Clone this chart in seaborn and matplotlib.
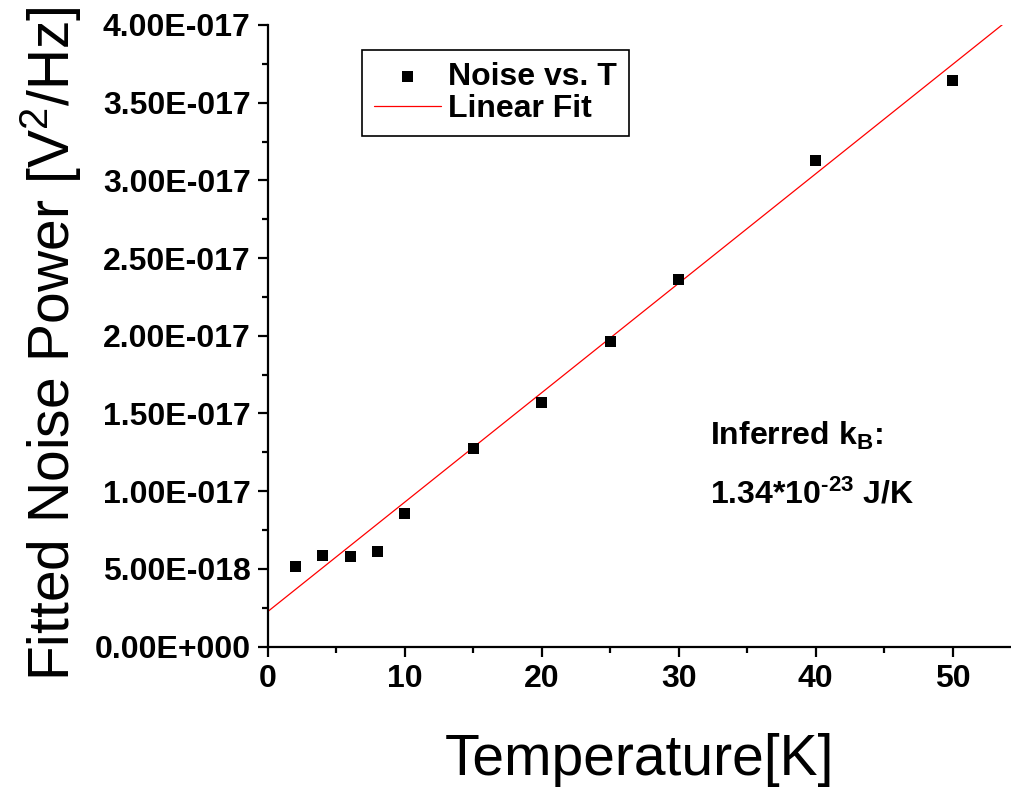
import numpy as np
import pandas as pd
import matplotlib
matplotlib.use("Agg")
import matplotlib.pyplot as plt
from matplotlib.ticker import FixedLocator, MultipleLocator
import seaborn as sns

# ---- data ----
temperature_K = [2, 4, 6, 8, 10, 15, 20, 25, 30, 40, 50]
noise_power = [5.15e-18, 5.84e-18, 5.82e-18, 6.14e-18, 8.57e-18,
               1.276e-17, 1.570e-17, 1.961e-17, 2.363e-17, 3.129e-17, 3.643e-17]
fit_intercept = 2.26e-18
fit_slope = 7.04e-19

y_ticks = [0, 5e-18, 1e-17, 1.5e-17, 2e-17, 2.5e-17, 3e-17, 3.5e-17, 4e-17]
y_tick_labels = ["0.00E+000", "5.00E-018", "1.00E-017", "1.50E-017", "2.00E-017",
                 "2.50E-017", "3.00E-017", "3.50E-017", "4.00E-017"]
x_ticks = [0, 10, 20, 30, 40, 50]
x_tick_labels = ["0", "10", "20", "30", "40", "50"]

x_max = 54.27
y_max = 4e-17

sns.set_style("ticks")
plt.rcParams["font.family"] = ["Liberation Sans", "DejaVu Sans"]
plt.rcParams["mathtext.fontset"] = "custom"
plt.rcParams["mathtext.rm"] = "Liberation Sans:bold"
plt.rcParams["mathtext.bf"] = "Liberation Sans:bold"
plt.rcParams["mathtext.default"] = "regular"
plt.rcParams["text.color"] = "black"
plt.rcParams["axes.labelcolor"] = "black"
plt.rcParams["xtick.color"] = "black"
plt.rcParams["ytick.color"] = "black"

W, H = 1011, 791
fig = plt.figure(figsize=(W / 100, H / 100), dpi=100)
ax = fig.add_axes([268 / W, (H - 646.5) / H, (W - 268) / W, (646.5 - 25) / H])

df = pd.DataFrame({"T": temperature_K, "P": noise_power})
fit_x = np.array([0.0, x_max])
fit_df = pd.DataFrame({"T": fit_x, "P": fit_intercept + fit_slope * fit_x})

sns.lineplot(data=fit_df, x="T", y="P", ax=ax, color="#ff0000", linewidth=0.9,
             label="Linear Fit", zorder=2)
sns.scatterplot(data=df, x="T", y="P", ax=ax, marker="s", s=64, color="black",
                edgecolor="none", label="Noise vs. T", zorder=3)

ax.set_xlim(0, x_max)
ax.set_ylim(0, y_max)
ax.yaxis.set_major_locator(FixedLocator(y_ticks))
ax.set_yticklabels(y_tick_labels)
ax.yaxis.set_minor_locator(MultipleLocator(2.5e-18))
ax.xaxis.set_major_locator(FixedLocator(x_ticks))
ax.set_xticklabels(x_tick_labels)
ax.xaxis.set_minor_locator(MultipleLocator(5))

for side in ["top", "right"]:
    ax.spines[side].set_visible(False)
for side in ["left", "bottom"]:
    ax.spines[side].set_linewidth(1.6)
    ax.spines[side].set_color("black")

ax.tick_params(which="major", direction="out", length=7.5, width=1.6, color="black",
               labelcolor="black", labelsize=23, pad=5)
ax.tick_params(which="minor", direction="out", length=4.5, width=1.6, color="black")
for lab in ax.get_xticklabels() + ax.get_yticklabels():
    lab.set_fontweight("bold")

ax.set_xlabel("Temperature[K]", fontsize=41, color="black")
ax.set_ylabel("Fitted Noise Power [V$^{2}$/Hz]", fontsize=41, color="black")
ax.xaxis.set_label_coords(0.5, -0.1396)
ax.yaxis.set_label_coords(-0.247, 0.487)

handles, labels = ax.get_legend_handles_labels()
order = [labels.index("Noise vs. T"), labels.index("Linear Fit")]
leg = ax.legend([handles[i] for i in order], [labels[i] for i in order],
                loc="upper left", bbox_to_anchor=(362 / W, 1 - 50 / H),
                bbox_transform=fig.transFigure, borderaxespad=0,
                frameon=True, fancybox=False, framealpha=1, edgecolor="black",
                prop={"size": 23, "weight": "bold"}, handlelength=2.1,
                handletextpad=0.2, borderpad=0.38, labelspacing=0.05)
leg.get_frame().set_linewidth(1.2)
for t in leg.get_texts():
    t.set_color("black")

ax.text(710 / W, 1 - 445 / H, "Inferred k$_{B}$:", transform=fig.transFigure,
        fontsize=23, fontweight="bold", ha="left", va="baseline", color="black")
ax.text(710 / W, 1 - 504 / H, r"1.34*10$^{\text{-23}}$ J/K", transform=fig.transFigure,
        fontsize=23, fontweight="bold", ha="left", va="baseline", color="black")

fig.savefig("out.png", dpi=100)
